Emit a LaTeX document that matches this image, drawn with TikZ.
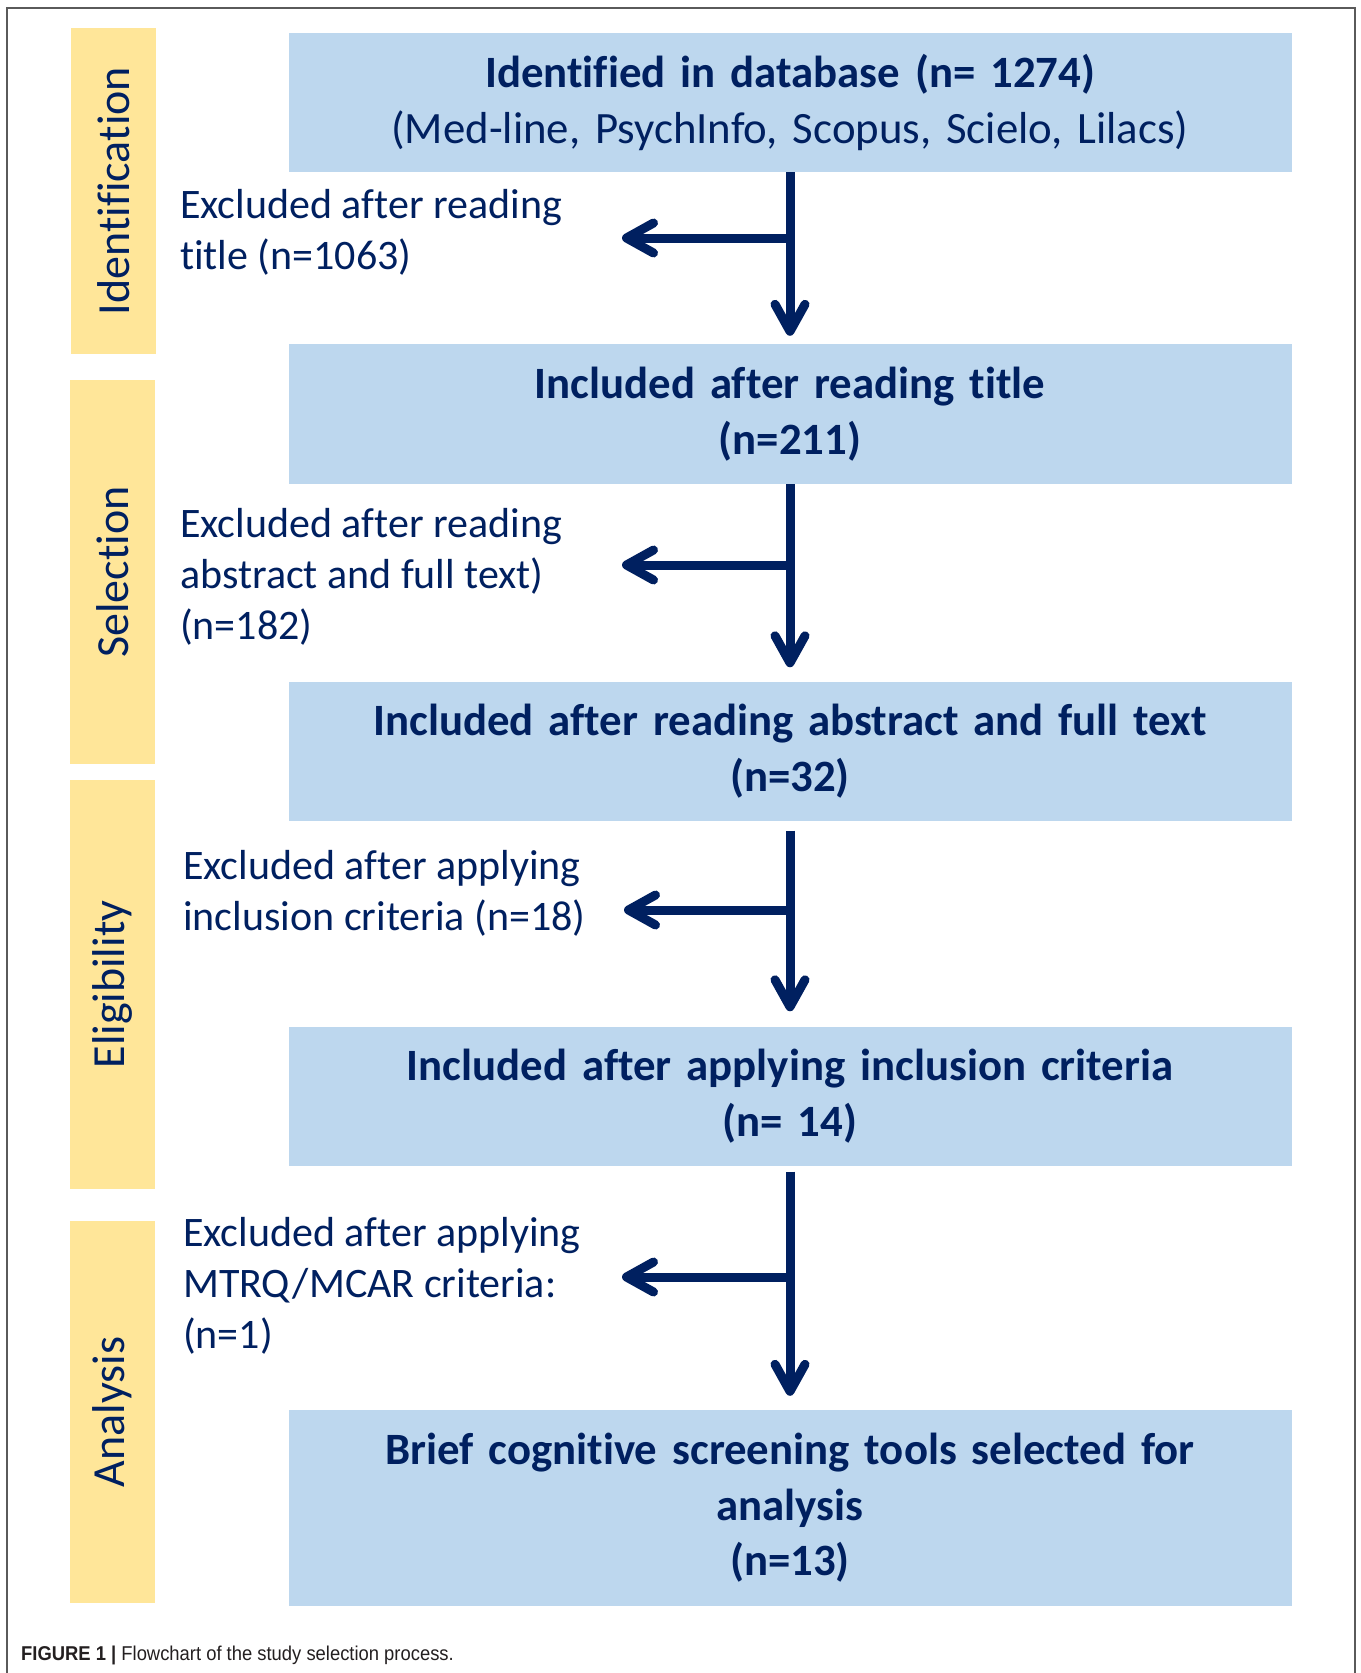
\documentclass[tikz,border=0pt]{standalone}
\usepackage{fontspec}
\setmainfont{Carlito}[Ligatures={NoCommon},Contextuals={NoAlternate}]
\newfontfamily\capfont[FakeStretch=0.92]{Liberation Sans}
\usetikzlibrary{arrows.meta}
\definecolor{navy}{HTML}{002060}
\definecolor{boxblue}{HTML}{BDD7EE}
\definecolor{baryellow}{HTML}{FFE699}
\definecolor{framegray}{HTML}{5A5A5A}
\definecolor{captext}{HTML}{231F20}
\begin{document}
\begin{tikzpicture}[x=1pt,y=-1pt,
  stagebox/.style={fill=boxblue, draw=none, inner sep=0pt, minimum width=1003pt,
    text width=1000pt, align=center, text=navy,
    font=\fontsize{44.8}{55.5}\selectfont\bfseries},
  phasebar/.style={fill=baryellow, draw=none, inner sep=0pt, rotate=90,
    minimum height=85pt, text=navy, font=\fontsize{46}{55.5}\selectfont},
  excl/.style={anchor=west, inner sep=0pt, align=left, text=navy,
    font=\fontsize{42}{51}\selectfont},
  flow/.style={draw=navy, line width=9pt,
    -{Straight Barb[length=27pt,width=30pt,round]}}
]
\useasboundingbox (0,0) rectangle (1360,1673);
\fill[white] (0,0) rectangle (1360,1673);
\draw[framegray, line width=1.5pt] (7,1673) -- (7,8) -- (1355,8) -- (1355,1673);

% phase bars
\node[phasebar, minimum width=326pt] (p1) at (113.5,191) {Identification};
\node[phasebar, minimum width=384pt] (p2) at (112.5,572) {Selection};
\node[phasebar, minimum width=409pt] (p3) at (112.5,984.5) {Eligibility};
\node[phasebar, minimum width=382pt] (p4) at (112,1412) {Analysis};

% stage boxes
\node[stagebox, minimum height=139pt] (b1) at (790,102.5)
  {Identified in database (n= 1274)\\ {\mdseries (Med-line, PsychInfo, Scopus, Scielo, Lilacs)}};
\node[stagebox, minimum height=140pt] (b2) at (790,414)
  {Included after reading title\\(n=211)};
\node[stagebox, minimum height=139pt] (b3) at (790,751)
  {Included after reading abstract and full text\\(n=32)};
\node[stagebox, minimum height=139pt] (b4) at (790,1096)
  {Included after applying inclusion criteria\\(n= 14)};
\node[stagebox, minimum height=196pt] (b5) at (790,1508)
  {Brief cognitive screening tools selected for\\analysis\\(n=13)};

% exclusion texts
\node[excl] (e1) at (180,232) {Excluded after reading\\title (n=1063)};
\node[excl] (e2) at (180,577) {Excluded after reading\\abstract and full text)\\(n=182)};
\node[excl] (e3) at (183,893) {Excluded after applying\\inclusion criteria (n=18)};
\node[excl] (e4) at (183,1286) {Excluded after applying\\MTRQ/MCAR criteria:\\(n=1)};

% junctions and tips
\coordinate (j1) at (790,238);  \coordinate (t1) at (622,238);
\coordinate (j2) at (790,565);  \coordinate (t2) at (622,565);
\coordinate (j3) at (790,910);  \coordinate (t3) at (624,910);
\coordinate (j4) at (790,1277); \coordinate (t4) at (622,1277);

% vertical arrows
\draw[flow, shorten >=8pt] (b1.south) -- (b2.north);
\draw[flow, shorten >=14pt] (b2.south) -- (b3.north);
\draw[flow, shorten <=10pt, shorten >=15pt] (b3.south) -- (b4.north);
\draw[flow, shorten <=6pt, shorten >=14pt] (b4.south) -- (b5.north);

% horizontal arrows
\draw[flow] (j1) -- (t1);
\draw[flow] (j2) -- (t2);
\draw[flow] (j3) -- (t3);
\draw[flow] (j4) -- (t4);

% caption
\node[anchor=west, inner sep=0pt, text=captext,
  font=\capfont\fontsize{20}{24}\selectfont] (cap) at (21,1655)
  {\textbf{FIGURE 1 |} Flowchart of the study selection process.};
\end{tikzpicture}
\end{document}
